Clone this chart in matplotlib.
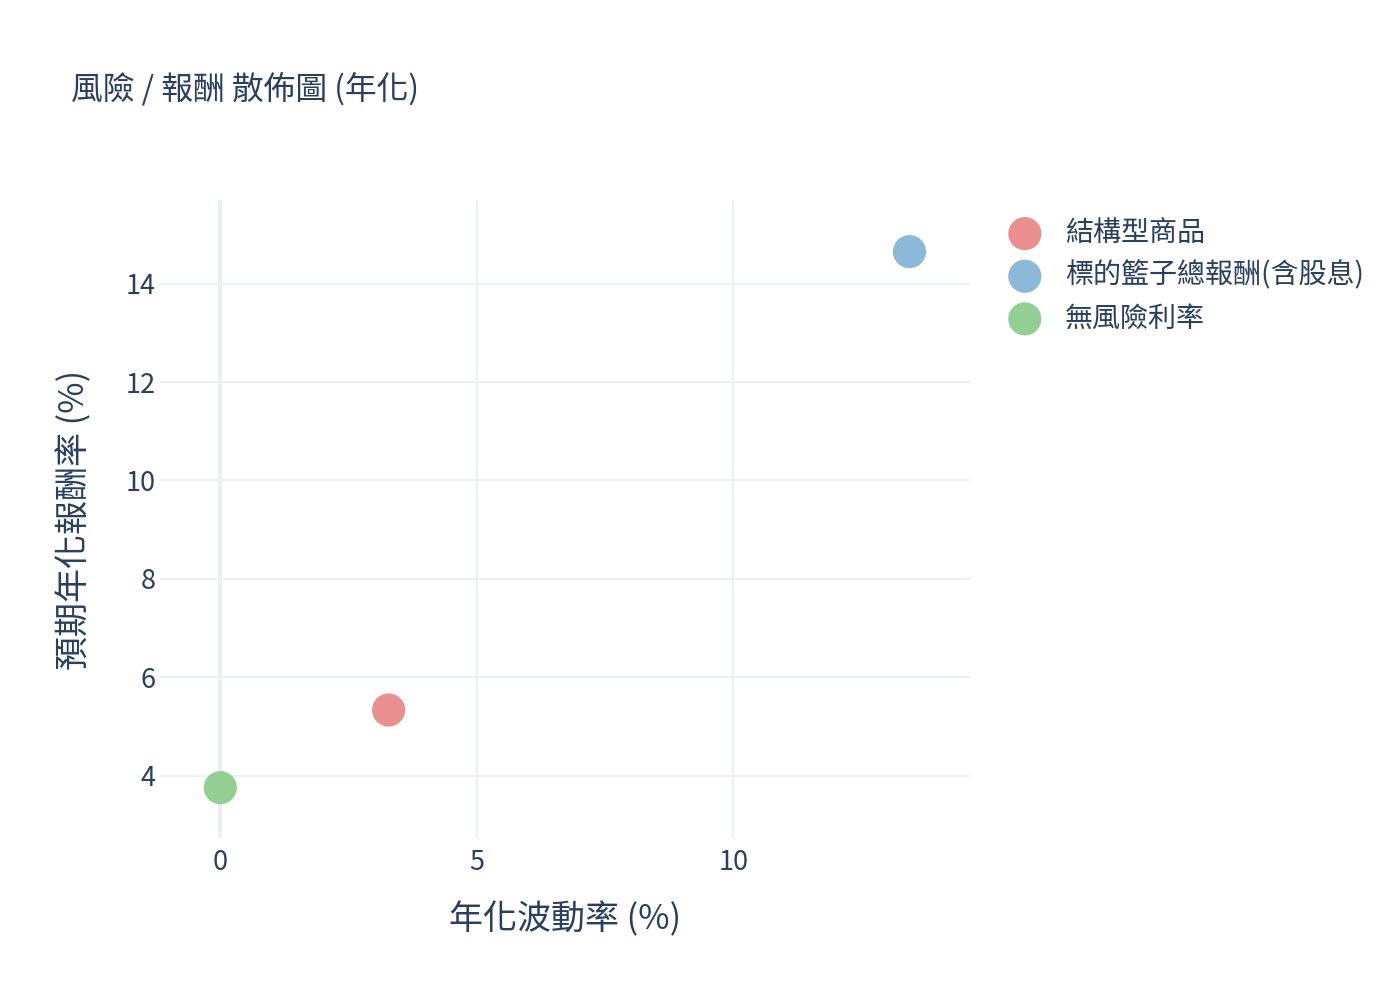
import matplotlib
matplotlib.use("Agg")
import matplotlib.pyplot as plt

plt.rcParams['font.family'] = ['Noto Sans CJK TC', 'DejaVu Sans']

# Data
names = ["結構型商品", "標的籃子總報酬(含股息)", "無風險利率"]
volatility = [3.28, 13.43, 0.0]
returns = [5.335, 14.65, 3.756]
colors = ["#E98F90", "#8DB9D8", "#93CF93"]
x_ticks = [0, 5, 10]
y_ticks = [4, 6, 8, 10, 12, 14]

title = "風險 / 報酬 散佈圖 (年化)"
x_title = "年化波動率 (%)"
y_title = "預期年化報酬率 (%)"

text_color = "#2a3f5f"
grid_color = "#EBF0F8"

fig = plt.figure(figsize=(14, 10), dpi=100)
ax = fig.add_axes([160/1400, 1-838/1000, 810/1400, 638/1000])

for n, xv, yv, c in zip(names, volatility, returns, colors):
    ax.scatter([xv], [yv], s=570, color=c, label=n, edgecolors='none',
               zorder=3, clip_on=False)

ax.set_xlim(-1.175, 14.61)
ax.set_ylim(2.733, 15.70)
ax.set_xticks(x_ticks)
ax.set_yticks(y_ticks)
ax.grid(True, color=grid_color, linewidth=1.45, zorder=0)
ax.axvline(0, color=grid_color, linewidth=2.9, zorder=1)
for s in ax.spines.values():
    s.set_visible(False)
ax.tick_params(axis='both', length=0, labelsize=19.5, colors=text_color)
ax.tick_params(axis='x', pad=8)
ax.tick_params(axis='y', pad=3)

fig.text(71/1400, 1-89/1000, title, fontsize=22.9, color=text_color,
         ha='left', va='center')
fig.text(565/1400, 1-920/1000, x_title, fontsize=24.5, color=text_color,
         ha='center', va='center')
fig.text(75/1400, 1-520/1000, y_title, fontsize=24.5, color=text_color,
         ha='center', va='center', rotation=90)

leg = fig.legend(loc='upper left', bbox_to_anchor=(1008/1400, 1-218/1000),
                 frameon=False, fontsize=20.2, labelcolor=text_color,
                 handlelength=1.2, handletextpad=0.82, labelspacing=0.45,
                 borderaxespad=0, borderpad=0, markerscale=1.0)

fig.savefig("out.png", dpi=100, facecolor="white")
